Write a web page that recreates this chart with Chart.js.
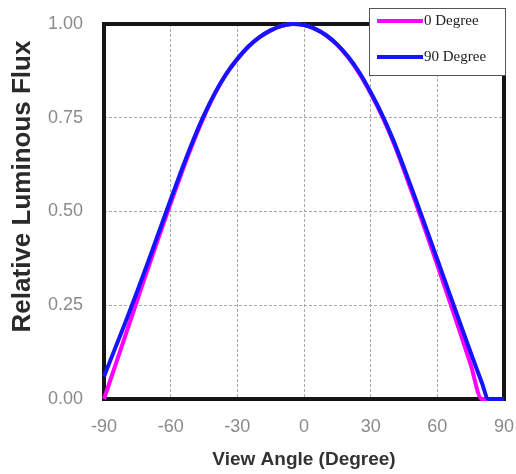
<!DOCTYPE html>
<html>
<head>
<meta charset="utf-8">
<script src="https://cdn.jsdelivr.net/npm/chart.js@4.4.1/dist/chart.umd.min.js"></script>
<style>
    html, body { margin: 0; padding: 0; background: #fff; }
    #wrap { position: relative; width: 516px; height: 474px; }
</style>
</head>
<body>
<div id="wrap"><canvas id="chart"></canvas></div>
<script>
(function () {
    'use strict';

    // values
    var angles0 = [-90, -85, -80, -75, -70, -65, -60, -55, -50, -45, -40, -35, -30, -25, -20, -15, -10, -5, 0,
        5, 10, 15, 20, 25, 30, 35, 40, 45, 50, 55, 60, 65, 70, 75, 80, 85, 90];
    var flux0 = [0, 0.088, 0.176, 0.264, 0.352, 0.438, 0.522, 0.604, 0.682, 0.753, 0.815, 0.866, 0.906, 0.94,
        0.965, 0.983, 0.995, 1.0, 0.997, 0.987, 0.969, 0.944, 0.91, 0.867, 0.815, 0.756, 0.688, 0.61, 0.528,
        0.443, 0.357, 0.27, 0.182, 0.092, 0, 0, 0];

    var angles90 = [-90, -85, -80, -75, -70, -65, -60, -55, -50, -45, -40, -35, -30, -25, -20, -15, -10, -5, 0,
        5, 10, 15, 20, 25, 30, 35, 40, 45, 50, 55, 60, 65, 70, 75, 80, 83, 90];
    var flux90 = [0.06, 0.135, 0.21, 0.288, 0.368, 0.45, 0.532, 0.612, 0.688, 0.757, 0.817, 0.867, 0.907, 0.94,
        0.965, 0.983, 0.995, 1.0, 0.997, 0.987, 0.97, 0.945, 0.912, 0.87, 0.818, 0.76, 0.693, 0.617, 0.537,
        0.455, 0.372, 0.289, 0.206, 0.124, 0.044, 0, 0];

    var xTicks = [-90, -60, -30, 0, 30, 60, 90];
    var yTicks = [0, 0.25, 0.5, 0.75, 1];
    var seriesNames = ['0 Degree', '90 Degree'];
    var seriesColors = ['#ff00ff', '#1414ff'];
    var yTitle = 'Relative Luminous Flux';

    var sans = "'Liberation Sans', Arial, sans-serif";

    function toPoints (xs, ys) {
        return xs.map(function (x, i) {
            return { x: x, y: ys[i] };
        });
    }

    // thick black frame round the plot area, under the curves
    var framePlugin = {
        id: 'frame',
        beforeDatasetsDraw: function (chart) {
            var a = chart.chartArea,
                ctx = chart.ctx;
            ctx.save();
            ctx.strokeStyle = '#151515';
            ctx.lineWidth = 4;
            ctx.strokeRect(a.left, a.top, a.right - a.left, a.bottom - a.top);
            ctx.restore();
        }
    };

    // y title sits a bit above the middle of the axis in the original
    var yTitlePlugin = {
        id: 'yTitle',
        afterDraw: function (chart) {
            var a = chart.chartArea,
                ctx = chart.ctx;
            ctx.save();
            ctx.translate(23, (a.top + a.bottom) / 2 - 25);
            ctx.rotate(-Math.PI / 2);
            ctx.fillStyle = '#2a2a2a';
            ctx.font = 'bold 26px ' + sans;
            ctx.textAlign = 'center';
            ctx.textBaseline = 'middle';
            ctx.fillText(yTitle, 0, 0);
            ctx.restore();
        }
    };

    // boxed legend sitting over the top right corner
    var boxLegend = {
        id: 'boxLegend',
        afterDraw: function (chart) {
            var a = chart.chartArea,
                ctx = chart.ctx,
                bx = a.right - 135,
                by = a.top - 16,
                bw = 137,
                bh = 68;

            ctx.save();
            ctx.fillStyle = '#fff';
            ctx.fillRect(bx, by, bw, bh);
            ctx.strokeStyle = '#555';
            ctx.lineWidth = 1;
            ctx.strokeRect(bx + 0.5, by + 0.5, bw - 1, bh - 1);

            chart.data.datasets.forEach(function (ds, i) {
                var y = by + 13 + i * 36;
                ctx.strokeStyle = ds.borderColor;
                ctx.lineWidth = 4;
                ctx.beginPath();
                ctx.moveTo(bx + 8, y);
                ctx.lineTo(bx + 54, y);
                ctx.stroke();

                ctx.fillStyle = '#222';
                ctx.font = "15px 'Liberation Serif', 'Times New Roman', serif";
                ctx.textBaseline = 'middle';
                ctx.textAlign = 'left';
                ctx.fillText(ds.label, bx + 55, y);
            });
            ctx.restore();
        }
    };

    new Chart(document.getElementById('chart'), {
        type: 'line',
        data: {
            datasets: [{
                label: seriesNames[0],
                data: toPoints(angles0, flux0),
                borderColor: seriesColors[0],
                order: 1
            }, {
                label: seriesNames[1],
                data: toPoints(angles90, flux90),
                borderColor: seriesColors[1],
                order: 0
            }]
        },
        options: {
            responsive: true,
            maintainAspectRatio: false,
            animation: false,
            layout: {
                padding: { top: 24, right: 12, left: 0, bottom: 0 }
            },
            elements: {
                line: { borderWidth: 4, cubicInterpolationMode: 'monotone', fill: false },
                point: { radius: 0 }
            },
            datasets: {
                line: { clip: false }
            },
            plugins: {
                legend: { display: false },
                tooltip: { enabled: false }
            },
            scales: {
                x: {
                    type: 'linear',
                    min: -90,
                    max: 90,
                    afterBuildTicks: function (axis) {
                        axis.ticks = xTicks.map(function (v) {
                            return { value: v };
                        });
                    },
                    afterFit: function (axis) {
                        axis.height = 75;
                        axis.paddingLeft = 0;
                        axis.paddingRight = 0;
                    },
                    ticks: {
                        padding: 17,
                        color: '#8a8a8a',
                        font: { family: sans, size: 18 },
                        maxRotation: 0
                    },
                    grid: { color: '#a8a8a8', lineWidth: 1, drawTicks: false },
                    border: { display: false, dash: [3, 2] },
                    title: {
                        display: true,
                        text: 'View Angle (Degree)',
                        color: '#333',
                        font: { family: sans, size: 19, weight: 'bold' },
                        padding: { top: 0, bottom: 3 }
                    }
                },
                y: {
                    min: 0,
                    max: 1,
                    afterBuildTicks: function (axis) {
                        axis.ticks = yTicks.map(function (v) {
                            return { value: v };
                        });
                    },
                    afterFit: function (axis) {
                        axis.width = 104;
                        axis.paddingTop = 0;
                        axis.paddingBottom = 0;
                    },
                    ticks: {
                        padding: 21,
                        color: '#8a8a8a',
                        font: { family: sans, size: 18 },
                        callback: function (v) {
                            return v.toFixed(2);
                        }
                    },
                    grid: { color: '#a8a8a8', lineWidth: 1, drawTicks: false },
                    border: { display: false, dash: [3, 2] }
                }
            }
        },
        plugins: [framePlugin, yTitlePlugin, boxLegend]
    });
}());
</script>
</body>
</html>
